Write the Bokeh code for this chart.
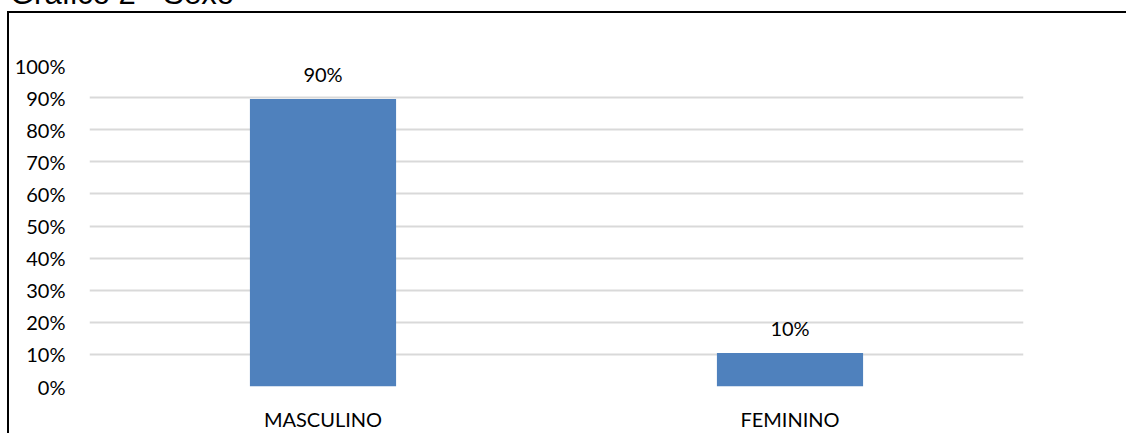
from bokeh.plotting import figure
from bokeh.layouts import column
from bokeh.models import (ColumnDataSource, FactorRange, Range1d, LabelSet, Div,
                          NumeralTickFormatter, FixedTicker, GlobalInlineStyleSheet)
from bokeh.core.properties import value
from bokeh.embed import file_html
from bokeh.resources import INLINE

# Data
categories = ["MASCULINO", "FEMININO"]
values = [89.6, 10.4]
value_labels = ["90%", "10%"]
y_ticks = [0, 10, 20, 30, 40, 50, 60, 70, 80, 90, 100]
title_text = "Gráfico 2 - Sexo"

FONT = "Lato"
FS = "20px"
BAR_COLOR = "#4F81BD"

source = ColumnDataSource(dict(cat=categories, val=values, lab=value_labels))

p = figure(
    width=1126, height=433,
    x_range=FactorRange(*categories, range_padding=0),
    y_range=Range1d(0, 100),
    output_backend="svg", toolbar_location=None,
    min_border_left=89, min_border_right=103, min_border_top=65, min_border_bottom=45,
)
p.outline_line_color = None
p.background_fill_color = "white"
p.border_fill_color = "white"

p.vbar(x="cat", top="val", width=0.313, source=source, fill_color=BAR_COLOR, line_color=None)

p.xgrid.grid_line_color = None
p.ygrid.grid_line_color = "#D9D9D9"
p.ygrid.grid_line_width = 2
p.ygrid.ticker = FixedTicker(ticks=y_ticks)

p.yaxis.ticker = FixedTicker(ticks=y_ticks)
p.yaxis.formatter = NumeralTickFormatter(format="0")
p.yaxis.major_label_overrides = {t: f"{t}%" for t in y_ticks}
for ax in (p.xaxis, p.yaxis):
    ax.axis_line_color = None
    ax.major_tick_line_color = None
    ax.minor_tick_line_color = None
    ax.major_tick_out = 0
    ax.major_tick_in = 0
    ax.major_label_text_font = FONT
    ax.major_label_text_font_size = FS
    ax.major_label_text_color = "black"
p.yaxis.major_label_standoff = 24
p.xaxis.major_label_standoff = 20

labels = LabelSet(x="cat", y="val", text="lab", source=source, y_offset=25,
                  text_align="center", text_baseline="middle",
                  text_font=value(FONT), text_font_size=value(FS), text_color="black")
p.add_layout(labels)

title_div = Div(
    text=title_text, width=500, height=40,
    styles={
        "position": "absolute", "top": "-24px", "left": "10px",
        "font-family": "'Liberation Sans', Arial, sans-serif",
        "font-size": "31px", "line-height": "normal",
        "white-space": "nowrap", "color": "black", "margin": "0",
        "pointer-events": "none",
    },
)

top_line = Div(text="", width=1118, height=2, styles={
    "position": "absolute", "top": "11px", "left": "8px",
    "background": "black", "margin": "0", "pointer-events": "none"})
left_line = Div(text="", width=2, height=422, styles={
    "position": "absolute", "top": "11px", "left": "7px",
    "background": "black", "margin": "0", "pointer-events": "none"})

no_scroll = GlobalInlineStyleSheet(css="html, body { margin: 0; overflow: hidden; }")

layout = column(p, title_div, top_line, left_line, width=1126, height=433,
                styles={"position": "relative", "overflow": "hidden"},
                stylesheets=[no_scroll])

open("out.html", "w").write(file_html(layout, INLINE))
